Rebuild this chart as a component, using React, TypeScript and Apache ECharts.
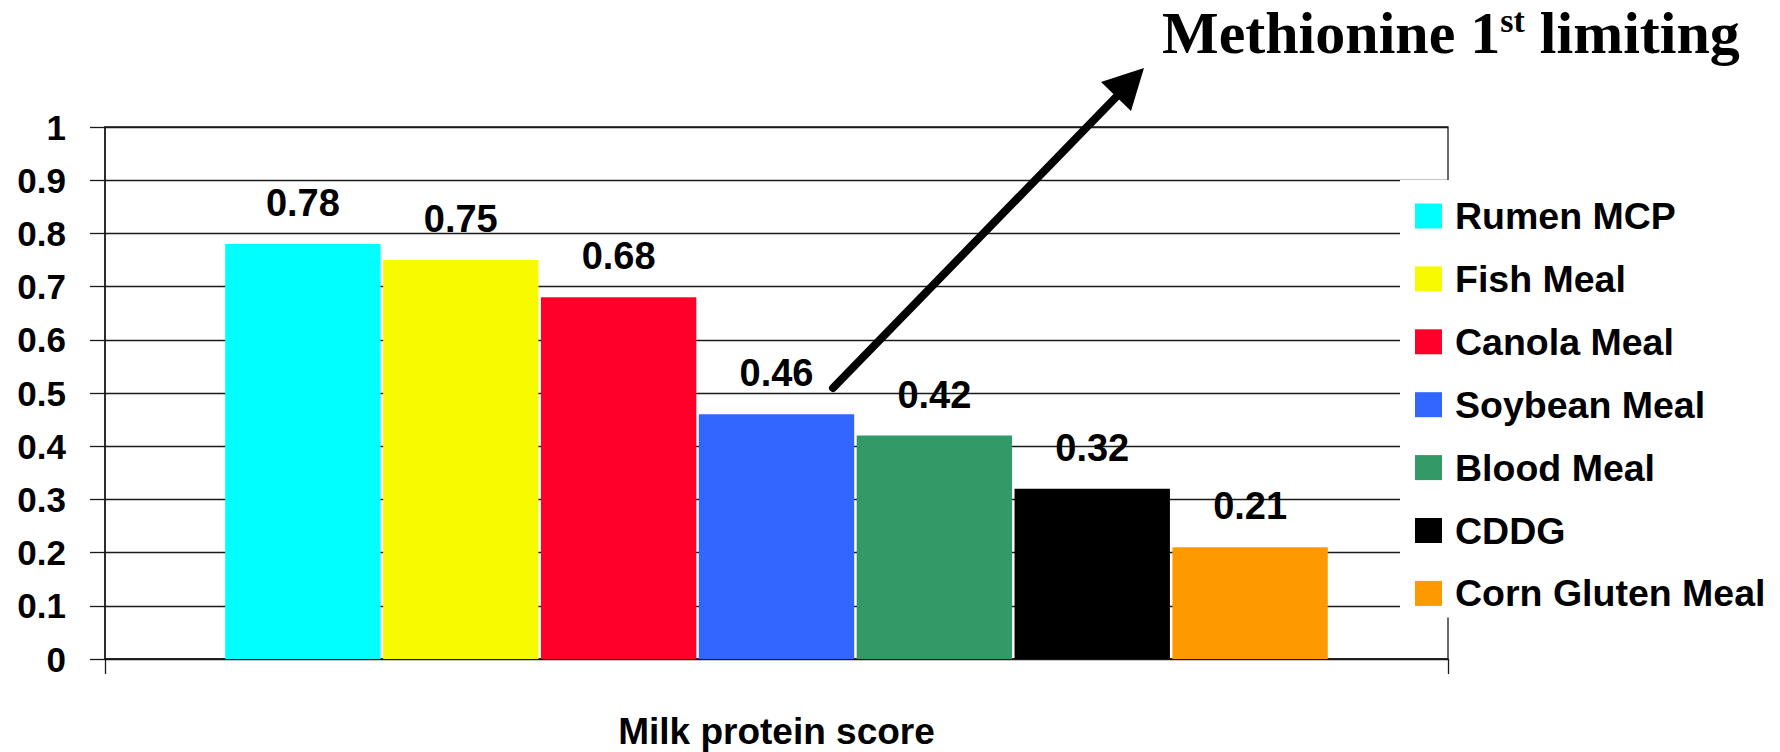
import React, { useEffect, useRef } from "react";
import * as echarts from "echarts";

// Milk protein score of common protein feeds
const categories: string[] = ["Milk protein score"];
const feeds: string[] = [
  "Rumen MCP",
  "Fish Meal",
  "Canola Meal",
  "Soybean Meal",
  "Blood Meal",
  "CDDG",
  "Corn Gluten Meal",
];
const scores: number[] = [0.78, 0.75, 0.68, 0.46, 0.42, 0.32, 0.21];
const feedColors: string[] = [
  "#00FFFF",
  "#F8FA00",
  "#FF0029",
  "#3366FF",
  "#339966",
  "#000000",
  "#FF9900",
];

const SANS = "'Liberation Sans', Arial, sans-serif";
const SERIF = "'Liberation Serif', 'Times New Roman', serif";
const LINE = "#1a1a1a";

export default function App() {
  const ref = useRef<HTMLDivElement>(null);

  useEffect(() => {
    if (!ref.current) return;
    const chart = echarts.init(ref.current, undefined, { renderer: "svg" });

    const series = feeds.map((name, i) => ({
      type: "bar" as const,
      name,
      data: [scores[i]],
      itemStyle: { color: feedColors[i] },
      barGap: "1.6%",
      barCategoryGap: "17.9%",
      label: {
        show: true,
        position: "top" as const,
        distance: 22,
        formatter: (p: any) => Number(p.value).toFixed(2),
        fontFamily: SANS,
        fontWeight: "bold" as const,
        fontSize: 38,
        color: "#000",
      },
    }));

    chart.setOption({
      animation: false,
      backgroundColor: "#ffffff",
      grid: {
        left: 105,
        right: 332,
        top: 127,
        bottom: 93,
        show: true,
        borderColor: LINE,
        borderWidth: 1.3,
        backgroundColor: "transparent",
      },
      xAxis: {
        type: "category",
        data: categories,
        axisLine: { lineStyle: { color: LINE, width: 1.5 } },
        axisTick: { show: true, length: 15, lineStyle: { color: LINE, width: 1.3 } },
        axisLabel: {
          margin: 54,
          fontFamily: SANS,
          fontWeight: "bold",
          fontSize: 37,
          color: "#000",
        },
        splitLine: { show: false },
      },
      yAxis: {
        type: "value",
        min: 0,
        max: 1,
        interval: 0.1,
        axisLine: { show: true, lineStyle: { color: LINE, width: 1.5 } },
        axisTick: { show: true, length: 15, lineStyle: { color: LINE, width: 1.3 } },
        axisLabel: {
          margin: 39,
          fontFamily: SANS,
          fontWeight: "bold",
          fontSize: 35,
          color: "#000",
        },
        splitLine: { show: true, lineStyle: { color: LINE, width: 1.3 } },
      },
      legend: {
        data: feeds,
        orient: "vertical",
        left: 1400,
        top: 180,
        padding: [17, 20, 5, 15],
        backgroundColor: "#ffffff",
        icon: "rect",
        itemWidth: 27,
        itemHeight: 25,
        itemGap: 24.9,
        selectedMode: false,
        textStyle: {
          fontFamily: SANS,
          fontWeight: "bold",
          fontSize: 37.5,
          color: "#000",
          padding: [0, 0, 0, 8],
        },
      },
      series,
      graphic: [
        {
          type: "line",
          z: 100,
          shape: { x1: 833, y1: 388, x2: 1120, y2: 93 },
          style: { stroke: "#000", lineWidth: 8, lineCap: "round" },
        },
        {
          type: "polygon",
          z: 100,
          shape: {
            points: [
              [1144, 68],
              [1131, 111],
              [1101, 82],
            ],
          },
          style: { fill: "#000" },
        },
        {
          type: "text",
          z: 100,
          x: 1162,
          y: 33,
          style: {
            text: "{a|Methionine 1}{s|st}{a| limiting}",
            align: "left",
            verticalAlign: "middle",
            rich: {
              a: {
                fontFamily: SERIF,
                fontWeight: "bold",
                fontSize: 60,
                lineHeight: 60,
                fill: "#000",
              },
              s: {
                fontFamily: SERIF,
                fontWeight: "bold",
                fontSize: 34,
                lineHeight: 34,
                verticalAlign: "top",
                fill: "#000",
              },
            },
          },
        },
      ],
    });

    return () => chart.dispose();
  }, []);

  return (
    <div
      ref={ref}
      style={{ position: "fixed", left: 0, top: 0, width: 1780, height: 752, background: "#fff" }}
    />
  );
}
